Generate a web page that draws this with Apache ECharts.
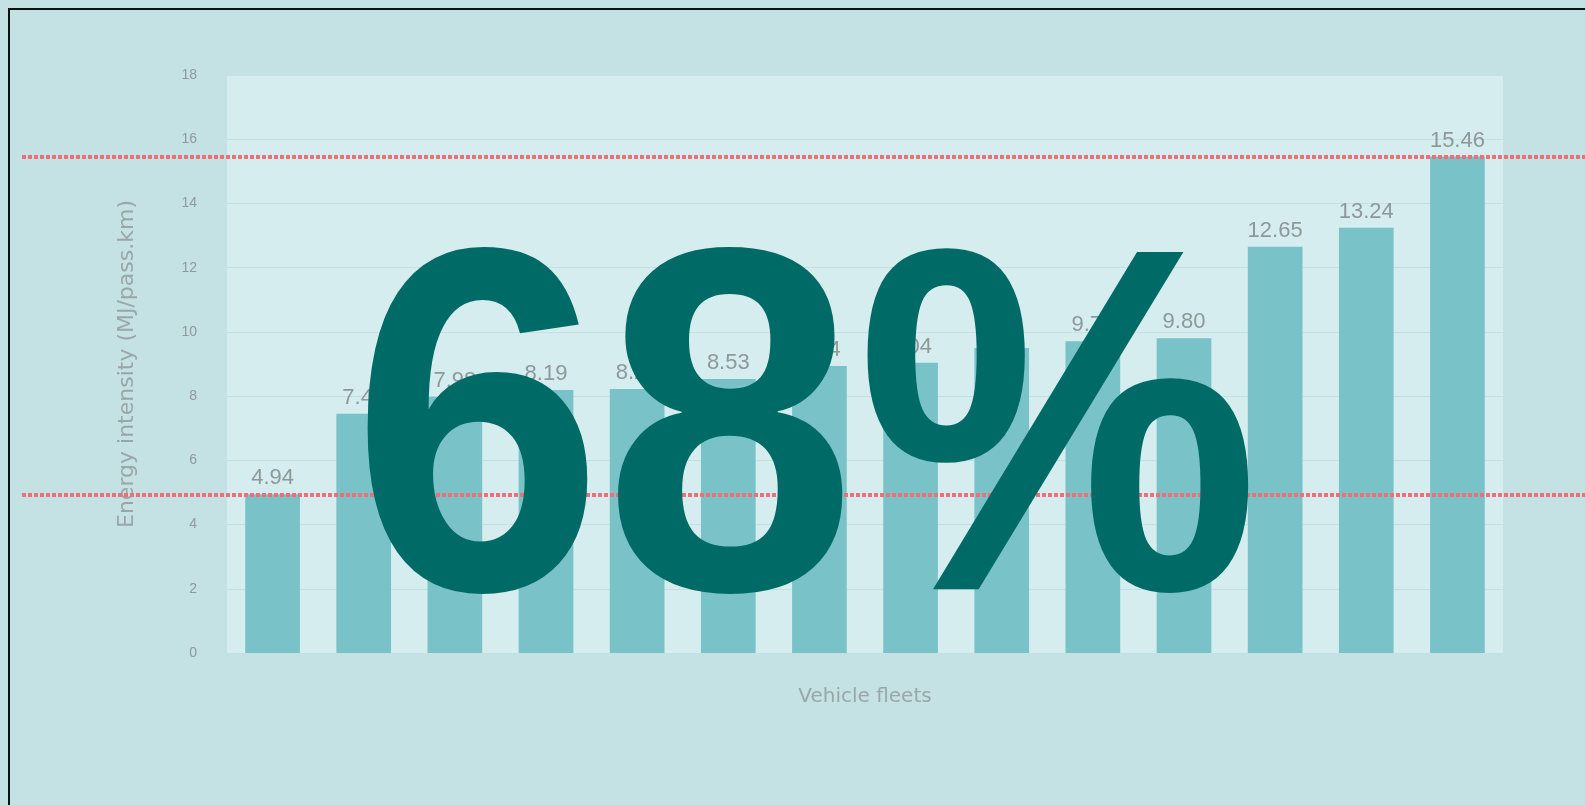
<!DOCTYPE html>
<html>
<head>
<meta charset="utf-8">
<script src="https://cdn.jsdelivr.net/npm/echarts@6/dist/echarts.min.js"></script>
<style>
  html, body { margin: 0; padding: 0; background: #c4e1e3; }
  #frame {
    position: absolute; left: 8px; top: 8px; width: 1577px; height: 797px;
    border-left: 2px solid #111; border-top: 2px solid #111; box-sizing: border-box;
  }
  #chart { position: absolute; left: 0; top: 0; width: 1585px; height: 805px; }
</style>
</head>
<body>
<div id="frame"></div>
<div id="chart"></div>
<script>
// bars (some labels hidden behind the big number)
const fleets = ['F1', 'F2', 'F3', 'F4', 'F5', 'F6', 'F7', 'F8', 'F9', 'F10', 'F11', 'F12', 'F13', 'F14'];
const intensity = [4.94, 7.45, 7.98, 8.19, 8.22, 8.53, 8.94, 9.04, 9.50, 9.71, 9.80, 12.65, 13.24, 15.46];
const yTicks = [0, 2, 4, 6, 8, 10, 12, 14, 16, 18];
const refLines = [15.46, 4.94];
const bigNumber = '68%';

const chart = echarts.init(document.getElementById('chart'));

chart.setOption({
  backgroundColor: 'transparent',
  animation: false,
  grid: [
    { left: 227, right: 82, top: 75, bottom: 152, show: true, backgroundColor: '#d5edef', borderWidth: 0 },
    // full-width grid only for the red reference lines
    { left: 22, right: 0, top: 75, bottom: 152 }
  ],
  xAxis: [
    {
      type: 'category',
      data: fleets,
      gridIndex: 0,
      name: 'Vehicle fleets',
      nameLocation: 'middle',
      nameGap: 34,
      nameTextStyle: { color: '#9aa7a8', fontSize: 20, fontFamily: 'DejaVu Sans' },
      axisLabel: { show: false },
      axisTick: { show: false },
      axisLine: { show: false }
    },
    { type: 'value', gridIndex: 1, min: 0, max: 1, show: false }
  ],
  yAxis: [
    {
      type: 'value',
      gridIndex: 0,
      min: 0,
      max: yTicks[yTicks.length - 1],
      interval: yTicks[1] - yTicks[0],
      name: 'Energy intensity (MJ/pass.km)',
      nameLocation: 'middle',
      nameGap: 89,
      nameTextStyle: { color: '#9aa7a8', fontSize: 22, fontFamily: 'DejaVu Sans' },
      axisLabel: { color: '#8f9a9b', fontSize: 14, margin: 30, fontFamily: 'Liberation Sans' },
      axisLine: { show: false },
      axisTick: { show: false },
      splitLine: { lineStyle: { color: '#c3e0e2', width: 1 } }
    },
    { type: 'value', gridIndex: 1, min: 0, max: yTicks[yTicks.length - 1], show: false }
  ],
  series: [
    {
      type: 'bar',
      xAxisIndex: 0,
      yAxisIndex: 0,
      data: intensity,
      barWidth: '60%',
      itemStyle: { color: '#78c2c8' },
      label: {
        show: true,
        position: 'top',
        distance: 5,
        formatter: p => p.value.toFixed(2),
        color: '#8f9899',
        fontSize: 22,
        fontFamily: 'Liberation Sans'
      }
    },
    {
      type: 'line',
      xAxisIndex: 1,
      yAxisIndex: 1,
      data: [],
      z: 5,
      markLine: {
        silent: true,
        symbol: 'none',
        label: { show: false },
        lineStyle: { color: '#ee7076', type: [4, 2], width: 4 },
        data: refLines.map(v => ({ yAxis: v }))
      }
    }
  ],
  graphic: [
    {
      type: 'text',
      z: 100,
      x: 351,
      y: 209,
      scaleX: 0.927,
      style: {
        text: bigNumber,
        x: 0, y: 0,
        fill: '#006b66',
        font: 'bold 490px "Liberation Sans", Arial, sans-serif'
      }
    }
  ]
});
</script>
</body>
</html>
